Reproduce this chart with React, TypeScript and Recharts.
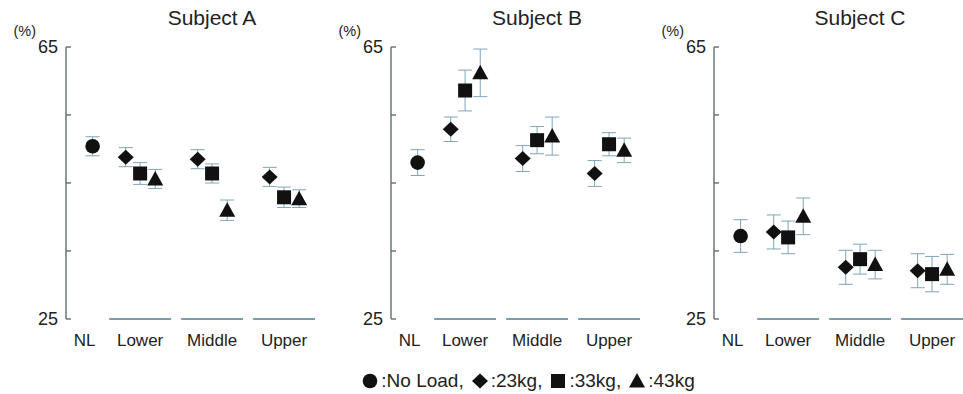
import { ScatterChart, Scatter, XAxis, YAxis, ErrorBar, ReferenceLine } from 'recharts'

const subjects = ['Subject A', 'Subject B', 'Subject C']
const regions = ['Lower', 'Middle', 'Upper']
const loads = ['23kg', '33kg', '43kg']

// No Load value per subject
const noLoadMean = [50.4, 48.0, 37.2]
const noLoadErr = [1.4, 1.9, 2.4]

// rows: Lower / Middle / Upper, cols: 23kg / 33kg / 43kg
const meanA = [[48.8, 46.4, 45.6], [48.5, 46.4, 41.0], [45.9, 42.9, 42.7]]
const errA = [[1.4, 1.6, 1.4], [1.4, 1.4, 1.5], [1.4, 1.5, 1.3]]
const meanB = [[52.9, 58.6, 61.2], [48.6, 51.3, 51.9], [46.4, 50.7, 49.8]]
const errB = [[1.8, 3.0, 3.5], [1.9, 2.0, 2.8], [1.9, 1.7, 1.8]]
const meanC = [[37.8, 37.0, 40.1], [32.6, 33.8, 33.0], [32.1, 31.6, 32.3]]
const errC = [[2.5, 2.4, 2.7], [2.5, 2.2, 2.1], [2.5, 2.6, 2.2]]

const yTicks = [25, 35, 45, 55, 65]
const yLabeled = [25, 65]
const legendLabels = ['No Load', '23kg', '33kg', '43kg']

const means = [meanA, meanB, meanC]
const errs = [errA, errB, errC]

// layout
const NL_X = -0.66
const LOAD_OFFSET = [-0.2, 0, 0.21]
const X_DOMAIN: [number, number] = [-1.03, 2.43]
const PANEL_LEFT = [0, 325, 648]
const FONT = "'Liberation Sans', Arial, sans-serif"
const INK = '#111'
const ERR = '#7ea5ba'

const Circle = (p: any) => <circle cx={p.cx} cy={p.cy} r={7.3} fill={INK} />
const Diamond = (p: any) => (
  <polygon
    points={`${p.cx},${p.cy - 7.5} ${p.cx + 8},${p.cy} ${p.cx},${p.cy + 7.5} ${p.cx - 8},${p.cy}`}
    fill={INK}
  />
)
const Square = (p: any) => <rect x={p.cx - 7} y={p.cy - 7} width={14} height={14} fill={INK} />
const Triangle = (p: any) => (
  <polygon
    points={`${p.cx},${p.cy - 8} ${p.cx + 8},${p.cy + 6.5} ${p.cx - 8},${p.cy + 6.5}`}
    fill={INK}
  />
)
const loadShapes = [Diamond, Square, Triangle]
const legendShapes = [Circle, Diamond, Square, Triangle]

const YTick = (p: any) => {
  const { x, y, payload } = p
  const v = payload.value
  return (
    <g>
      <line x1={x} x2={x + 5} y1={y} y2={y} stroke="#6e757c" strokeWidth={1.5} />
      {yLabeled.includes(v) && (
        <text x={x - 8} y={y} dy={6} textAnchor="end" fontSize={18} fill="#222">
          {v}
        </text>
      )}
      {v === 65 && (
        <text x={x - 30} y={y} dy={-11} textAnchor="end" fontSize={14.5} fill="#222">
          (%)
        </text>
      )}
    </g>
  )
}

const XTick = (p: any) => {
  const { x, y, payload } = p
  const v = payload.value
  const label = v === NL_X ? 'NL' : regions[Math.round(v)]
  return (
    <text x={v === NL_X ? x - 8 : x} y={y + 27} textAnchor="middle" fontSize={17} fill="#222">
      {label}
    </text>
  )
}

function Panel({ idx }: { idx: number }) {
  const mean = means[idx]
  const err = errs[idx]
  const nl = [{ x: NL_X, y: noLoadMean[idx], err: noLoadErr[idx] }]
  return (
    <ScatterChart width={324} height={394} margin={{ top: 47, right: 9, left: 0, bottom: 45 }}>
      <XAxis
        type="number"
        dataKey="x"
        domain={X_DOMAIN}
        ticks={[NL_X, 0, 1, 2]}
        axisLine={false}
        tickLine={false}
        tickSize={0}
        tickMargin={0}
        height={30}
        tick={<XTick />}
      />
      <YAxis
        type="number"
        dataKey="y"
        domain={[25, 65]}
        ticks={yTicks}
        width={66}
        tickSize={0}
        tickMargin={0}
        tickLine={false}
        axisLine={{ stroke: '#6e757c', strokeWidth: 1.5 }}
        tick={<YTick />}
      />
      {regions.map((r, ri) => (
        <ReferenceLine
          key={r}
          segment={[{ x: ri - 0.43, y: 25 }, { x: ri + 0.43, y: 25 }]}
          stroke="#4b7d90"
          strokeWidth={1.5}
          ifOverflow="visible"
        />
      ))}
      <Scatter name="No Load" data={nl} shape={Circle} isAnimationActive={false}>
        <ErrorBar dataKey="err" direction="y" width={7} stroke={ERR} strokeWidth={1} />
      </Scatter>
      {loads.map((l, li) => (
        <Scatter
          key={l}
          name={l}
          data={regions.map((_, ri) => ({ x: ri + LOAD_OFFSET[li], y: mean[ri][li], err: err[ri][li] }))}
          shape={loadShapes[li]}
          isAnimationActive={false}
        >
          <ErrorBar dataKey="err" direction="y" width={7} stroke={ERR} strokeWidth={1} />
        </Scatter>
      ))}
    </ScatterChart>
  )
}

export default function App() {
  return (
    <div
      style={{
        position: 'absolute',
        left: 0,
        top: 0,
        width: 963,
        height: 394,
        overflow: 'hidden',
        background: '#fff',
        fontFamily: FONT,
        color: '#222'
      }}
    >
      {subjects.map((s, i) => (
        <div key={s}>
          <div style={{ position: 'absolute', left: PANEL_LEFT[i], top: 0 }}>
            <Panel idx={i} />
          </div>
          <div
            style={{
              position: 'absolute',
              left: PANEL_LEFT[i] + 212 - 100,
              top: 7,
              width: 200,
              textAlign: 'center',
              fontSize: 21,
              lineHeight: '21px'
            }}
          >
            {s}
          </div>
        </div>
      ))}
      <div
        style={{
          position: 'absolute',
          left: 0,
          width: 1056,
          top: 371,
          display: 'flex',
          justifyContent: 'center',
          alignItems: 'center',
          fontSize: 19,
          lineHeight: '20px'
        }}
      >
        {legendLabels.map((l, i) => {
          const S = legendShapes[i]
          return (
            <span
              key={l}
              style={{ display: 'inline-flex', alignItems: 'center', marginRight: i < legendLabels.length - 1 ? 7 : 0 }}
            >
              <svg width={18} height={18} style={{ marginRight: 2 }}>
                <S cx={9} cy={9} />
              </svg>
              {':' + l + (i < legendLabels.length - 1 ? ',' : '')}
            </span>
          )
        })}
      </div>
    </div>
  )
}
